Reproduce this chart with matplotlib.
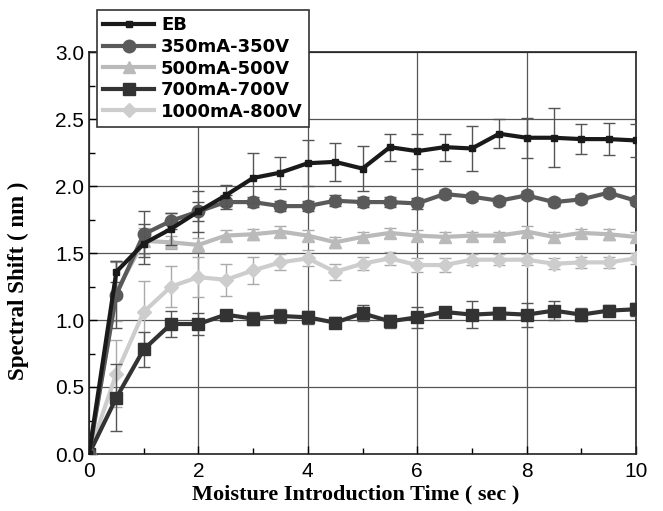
import matplotlib
matplotlib.use("Agg")
import matplotlib.pyplot as plt
from matplotlib.ticker import MultipleLocator, FormatStrFormatter
import numpy as np

time = [0, 0.5, 1.0, 1.5, 2.0, 2.5, 3.0, 3.5, 4.0, 4.5, 5.0, 5.5, 6.0, 6.5, 7.0, 7.5, 8.0, 8.5, 9.0, 9.5, 10.0]

eb = [0, 1.36, 1.57, 1.68, 1.81, 1.93, 2.06, 2.10, 2.17, 2.18, 2.13, 2.29, 2.26, 2.29, 2.28, 2.39, 2.36, 2.36, 2.35, 2.35, 2.34]
eb_err = [0, 0.08, 0.15, 0.12, 0.15, 0.08, 0.19, 0.12, 0.17, 0.14, 0.17, 0.10, 0.13, 0.10, 0.17, 0.11, 0.15, 0.22, 0.11, 0.12, 0.12]

s350 = [0, 1.19, 1.64, 1.74, 1.81, 1.88, 1.88, 1.85, 1.85, 1.89, 1.88, 1.88, 1.87, 1.94, 1.92, 1.89, 1.93, 1.88, 1.90, 1.95, 1.89]
s350_err = [0, 0.25, 0.17, 0.06, 0.07, 0.05, 0.04, 0.04, 0.04, 0.04, 0.04, 0.04, 0.04, 0.03, 0.03, 0.03, 0.03, 0.03, 0.03, 0.03, 0.03]

s500 = [0, 1.21, 1.59, 1.58, 1.56, 1.63, 1.64, 1.66, 1.63, 1.58, 1.62, 1.65, 1.63, 1.62, 1.63, 1.63, 1.66, 1.62, 1.65, 1.64, 1.62]
s500_err = [0, 0.22, 0.10, 0.05, 0.05, 0.04, 0.04, 0.04, 0.04, 0.04, 0.04, 0.04, 0.04, 0.04, 0.03, 0.03, 0.04, 0.04, 0.03, 0.04, 0.04]

s700 = [0, 0.42, 0.78, 0.97, 0.97, 1.04, 1.01, 1.03, 1.02, 0.98, 1.05, 0.99, 1.02, 1.06, 1.04, 1.05, 1.04, 1.07, 1.04, 1.07, 1.08]
s700_err = [0, 0.25, 0.13, 0.10, 0.08, 0.03, 0.05, 0.05, 0.05, 0.04, 0.06, 0.05, 0.08, 0.04, 0.10, 0.04, 0.09, 0.07, 0.05, 0.04, 0.05]

s1000 = [0, 0.60, 1.06, 1.25, 1.32, 1.30, 1.37, 1.43, 1.46, 1.36, 1.42, 1.46, 1.41, 1.41, 1.45, 1.45, 1.45, 1.42, 1.43, 1.43, 1.46]
s1000_err = [0, 0.25, 0.23, 0.15, 0.15, 0.12, 0.10, 0.06, 0.06, 0.06, 0.05, 0.05, 0.05, 0.05, 0.04, 0.04, 0.04, 0.04, 0.04, 0.04, 0.04]

labels = ["EB", "350mA-350V", "500mA-500V", "700mA-700V", "1000mA-800V"]

fig = plt.figure(figsize=(6.63, 5.11), dpi=100)
ax = fig.add_axes([89/663, 1 - 454/511, (636-89)/663, (454-52)/511])

series = [
    (eb, eb_err, "#1a1a1a", "s", 5, 10),
    (s350, s350_err, "#5a5a5a", "o", 9, 8),
    (s500, s500_err, "#bababa", "^", 9, 6),
    (s700, s700_err, "#333333", "s", 9, 7),
    (s1000, s1000_err, "#cdcdcd", "D", 7, 5),
]

handles = []
for (vals, err, col, mk, ms, z), lab in zip(series, labels):
    ecol = "#555555" if col in ("#1a1a1a", "#5a5a5a", "#333333") else "#aaaaaa"
    ax.errorbar(time, vals, yerr=err, fmt="none", ecolor=ecol, elinewidth=1.0,
                capsize=4, capthick=1.0, zorder=z - 0.5)
    h, = ax.plot(time, vals, color=col, marker=mk, markersize=ms, linewidth=3,
                 label=lab, zorder=z)
    handles.append(h)

ax.set_xlim(0, 10)
ax.set_ylim(0, 3.0)
ax.xaxis.set_major_locator(MultipleLocator(2))
ax.xaxis.set_minor_locator(MultipleLocator(1))
ax.yaxis.set_major_locator(MultipleLocator(0.5))
ax.yaxis.set_minor_locator(MultipleLocator(0.25))
ax.yaxis.set_major_formatter(FormatStrFormatter("%.1f"))
ax.tick_params(which="both", direction="in", top=False, right=False, width=1)
ax.tick_params(which="major", length=6, labelsize=15)
ax.tick_params(axis="x", which="major", pad=6)
ax.tick_params(which="minor", length=4)
for lbl in ax.get_xticklabels() + ax.get_yticklabels():
    lbl.set_family(["Liberation Sans Narrow", "Liberation Sans", "DejaVu Sans"])
ax.grid(True, which="major", color="#555555", linewidth=0.9)
ax.set_axisbelow(True)
for sp in ax.spines.values():
    sp.set_linewidth(1.2)
    sp.set_color("#222222")

ax.set_xlabel("Moisture Introduction Time ( sec )", family="Liberation Serif",
              fontweight="bold", fontsize=16)
ax.xaxis.set_label_coords(0.487, -0.077)
ax.set_ylabel("Spectral Shift ( nm )", family="Liberation Serif",
              fontweight="bold", fontsize=16.5)
ax.yaxis.set_label_coords(-0.11, 0.43)

leg = fig.legend(handles=handles, labels=labels, loc="upper left",
                 bbox_to_anchor=(97/663, 1 - 10/511), borderaxespad=0,
                 frameon=True, fancybox=False,
                 edgecolor="#333333", framealpha=1, handlelength=2.8,
                 borderpad=0.35, labelspacing=0.2, handletextpad=0.4,
                 prop={"family": "DejaVu Sans", "weight": "bold", "size": 13})
leg.get_frame().set_linewidth(1.2)

fig.savefig("out.png", dpi=100)
